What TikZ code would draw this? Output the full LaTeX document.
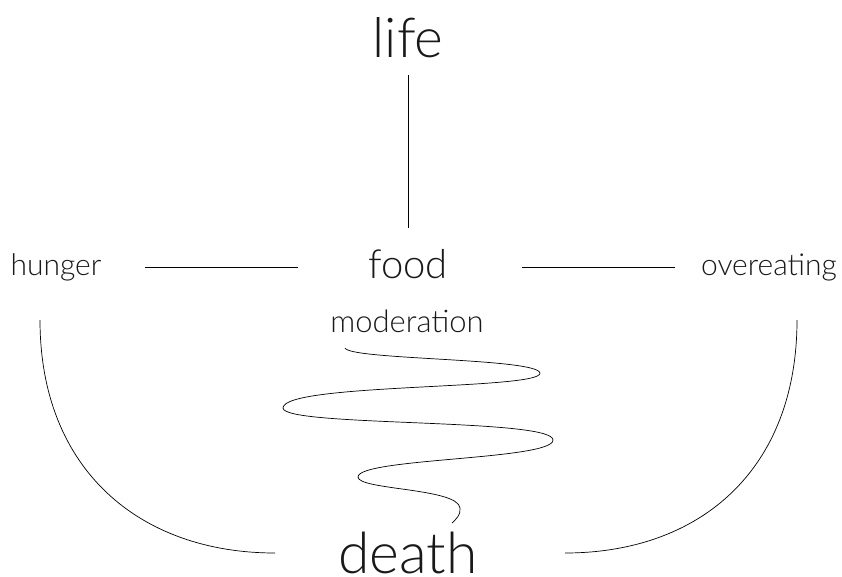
\documentclass[tikz,border=0pt]{standalone}
\usepackage{fontspec}
\setmainfont{Lato Light}
\begin{document}
\begin{tikzpicture}[x=1pt,y=-1pt,
  link/.style={line width=0.7pt,draw=black},
  word/.style={anchor=base,inner sep=0pt,text=black!90}]
\useasboundingbox (0,0) rectangle (842,577);

% terms
\node[word,font=\fontsize{55}{55}\selectfont] (life) at (408,58) {life};
\node[word,font=\fontsize{40}{40}\selectfont] (food) at (408,278) {food};
\node[word,font=\fontsize{30}{30}\selectfont] (hunger) at (56,275) {hunger};
\node[word,font=\fontsize{30}{30}\selectfont] (over) at (769,275) {overeating};
\node[word,font=\fontsize{31}{31}\selectfont] (mod) at (407,332) {moderation};
\node[word,font=\fontsize{57}{57}\selectfont] (death) at (408,573) {death};

% connector end points
\coordinate (lifeE) at (408,75);
\coordinate (foodN) at (408,228);
\coordinate (hungerE) at (145,267);
\coordinate (foodW) at (298,267);
\coordinate (foodE) at (522,267);
\coordinate (overW) at (675,267);
\coordinate (hungerS) at (40,320);
\coordinate (deathW) at (275,553);
\coordinate (overS) at (797,320);
\coordinate (deathE) at (565,553);
\coordinate (modS) at (345,348);
\coordinate (deathN) at (452,523);

\draw[link] (lifeE) -- (foodN);
\draw[link] (hungerE) -- (foodW);
\draw[link] (foodE) -- (overW);
\draw[link] (hungerS) .. controls (40,470) and (140,553) .. (deathW);
\draw[link] (overS) .. controls (797,470) and (700,553) .. (deathE);

% winding path of moderation
\draw[link] (modS)
  .. controls (350,360) and (537,358) .. (540,373)
  .. controls (542,390) and (283,383) .. (283,408)
  .. controls (283,427) and (553,418) .. (553,440)
  .. controls (553,460) and (358,458) .. (358,477)
  .. controls (358,490) and (458,488) .. (460,508)
  .. controls (461,515) and (456,519) .. (deathN);
\end{tikzpicture}
\end{document}
